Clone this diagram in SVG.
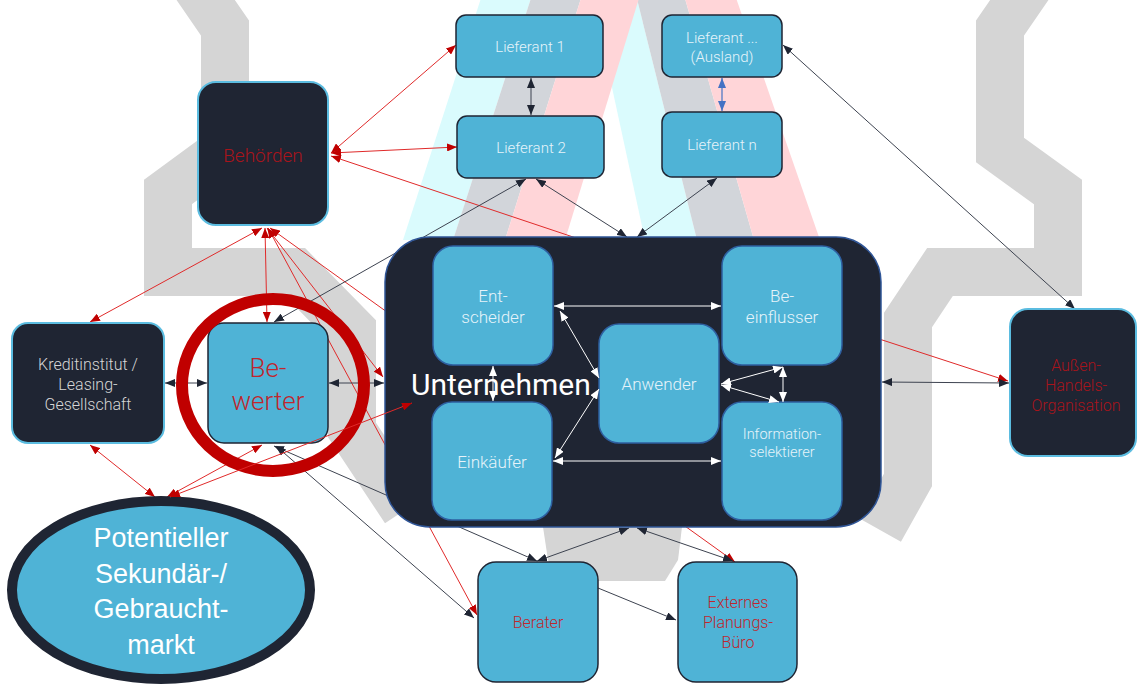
<svg xmlns="http://www.w3.org/2000/svg" width="1137" height="684" viewBox="0 0 1137 684">
<style>
.lbl{font-family:Roboto,"Liberation Sans",sans-serif;font-weight:300;text-anchor:middle}
.lt{fill:#E6F3FA}
.gr{fill:#D6D6D6}
.rd{fill:#A8141B}
.rb{fill:#C0262D}
.dkn{fill:#1F2533;stroke:#5BBCE0;stroke-width:2}
.bln{fill:#4FB3D6;stroke:#1F2533;stroke-width:1.5}
.inn{fill:#4FB3D6;stroke:#2E5FA0;stroke-width:1.5}
.cr{stroke:#E02A2A;stroke-width:1;fill:none}
.cd{stroke:#3D4350;stroke-width:1;fill:none}
.cw{stroke:#FFFFFF;stroke-width:1;fill:none}
.cb{stroke:#4472C4;stroke-width:1.2;fill:none}
.bgg{fill:none;stroke:#D5D5D5;stroke-linejoin:miter}
</style>
<defs>
<marker id="ar" viewBox="0 0 10 8" refX="10" refY="4" markerWidth="10" markerHeight="8" markerUnits="userSpaceOnUse" orient="auto-start-reverse"><path d="M0,0L10,4L0,8z" fill="#C00000"/></marker>
<marker id="ad" viewBox="0 0 10 8" refX="10" refY="4" markerWidth="10" markerHeight="8" markerUnits="userSpaceOnUse" orient="auto-start-reverse"><path d="M0,0L10,4L0,8z" fill="#1F2533"/></marker>
<marker id="aw" viewBox="0 0 10 8" refX="10" refY="4" markerWidth="10" markerHeight="8" markerUnits="userSpaceOnUse" orient="auto-start-reverse"><path d="M0,0L10,4L0,8z" fill="#FFFFFF"/></marker>
<marker id="ab" viewBox="0 0 10 8" refX="10" refY="4" markerWidth="10" markerHeight="8" markerUnits="userSpaceOnUse" orient="auto-start-reverse"><path d="M0,0L10,4L0,8z" fill="#4472C4"/></marker>
</defs>
<rect width="1137" height="684" fill="#FFFFFF"/>
<g id="background">
<polygon points="592,-5 636,-5 697,240 645,240" fill="#DAFBFD"/>
<polygon points="636,-5 684,-5 754,240 697,240" fill="#D2D5DA"/>
<polygon points="684,-5 735,-5 820,240 754,240" fill="#FFD5D8"/>
<polygon points="482,-5 532,-5 453,240 403,240" fill="#DAFBFD"/>
<polygon points="532,-5 582,-5 505,240 453,240" fill="#D2D5DA"/>
<polygon points="582,-5 640,-5 565,240 505,240" fill="#FFD5D8"/>
<polyline class="bgg" stroke-width="48" points="185,-30 225,28 225,150 168,192 168,272 295,272 352,330 352,430 405,510"/>
<polyline class="bgg" stroke-width="48" points="1040,-30 1000,28 1000,150 1058,192 1058,272 940,272 908,320 908,480 880,530"/>
<polygon points="543,527 682,527 678,560 665,581 560,581 548,560" fill="#D5D5D5"/>
</g>
<g id="connectors">
<line class="cr" x1="331" y1="153" x2="456" y2="45" marker-start="url(#ar)" marker-end="url(#ar)"/>
<line class="cr" x1="331" y1="153" x2="457" y2="147" marker-start="url(#ar)" marker-end="url(#ar)"/>
<line class="cr" x1="331" y1="156" x2="600" y2="246" marker-start="url(#ar)"/>
<line class="cr" x1="262" y1="228" x2="90" y2="322" marker-start="url(#ar)" marker-end="url(#ar)"/>
<line class="cr" x1="265" y1="228" x2="267" y2="322" marker-start="url(#ar)" marker-end="url(#ar)"/>
<line class="cr" x1="267" y1="228" x2="383" y2="377" marker-start="url(#ar)" marker-end="url(#ar)"/>
<line class="cr" x1="268" y1="228" x2="477" y2="615" marker-start="url(#ar)" marker-end="url(#ar)"/>
<line class="cr" x1="270" y1="228" x2="735" y2="562" marker-start="url(#ar)" marker-end="url(#ar)"/>
<line class="cr" x1="90" y1="445" x2="155" y2="497" marker-start="url(#ar)" marker-end="url(#ar)"/>
<line class="cr" x1="262" y1="445" x2="167" y2="497" marker-start="url(#ar)" marker-end="url(#ar)"/>
<line class="cr" x1="870" y1="336" x2="1008" y2="381" marker-end="url(#ar)"/>
<line class="cd" x1="531" y1="78" x2="531" y2="115" marker-start="url(#ad)" marker-end="url(#ad)"/>
<line class="cb" x1="722" y1="78" x2="722" y2="111" marker-start="url(#ab)" marker-end="url(#ab)"/>
<line class="cd" x1="526" y1="179" x2="274" y2="322" marker-start="url(#ad)" marker-end="url(#ad)"/>
<line class="cd" x1="536" y1="179" x2="627" y2="237" marker-start="url(#ad)" marker-end="url(#ad)"/>
<line class="cd" x1="717" y1="178" x2="637" y2="237" marker-start="url(#ad)" marker-end="url(#ad)"/>
<line class="cd" x1="783" y1="45" x2="1075" y2="309" marker-start="url(#ad)" marker-end="url(#ad)"/>
<line class="cd" x1="882" y1="382" x2="1009" y2="383" marker-start="url(#ad)" marker-end="url(#ad)"/>
<line class="cd" x1="165" y1="383" x2="207" y2="383" marker-start="url(#ad)" marker-end="url(#ad)"/>
<line class="cd" x1="329" y1="383" x2="384" y2="383" marker-start="url(#ad)" marker-end="url(#ad)"/>
<line class="cd" x1="274" y1="446" x2="537" y2="561" marker-start="url(#ad)" marker-end="url(#ad)"/>
<line class="cd" x1="276" y1="446" x2="474" y2="618" marker-start="url(#ad)" marker-end="url(#ad)"/>
<line class="cd" x1="629" y1="528" x2="537" y2="561" marker-start="url(#ad)" marker-end="url(#ad)"/>
<line class="cd" x1="637" y1="528" x2="733" y2="561" marker-start="url(#ad)" marker-end="url(#ad)"/>
<line class="cd" x1="598" y1="588" x2="676" y2="620" marker-end="url(#ad)"/>
</g>
<g id="node-lieferant1"><rect class="bln" x="456" y="15" width="147" height="62" rx="10"/><text class="lbl lt" x="530" y="52" font-size="15">Lieferant 1</text></g>
<g id="node-lieferant2"><rect class="bln" x="457" y="116" width="147" height="62" rx="10"/><text class="lbl lt" x="531" y="153" font-size="15">Lieferant 2</text></g>
<g id="node-lieferant-ausland"><rect class="bln" x="662" y="15" width="120" height="62" rx="10"/><text class="lbl lt" x="722" y="43" font-size="15">Lieferant ...</text><text class="lbl lt" x="722" y="62" font-size="15">(Ausland)</text></g>
<g id="node-lieferantn"><rect class="bln" x="662" y="112" width="120" height="65" rx="10"/><text class="lbl lt" x="722" y="150" font-size="15">Lieferant n</text></g>
<g id="node-behoerden"><rect class="dkn" x="198" y="82" width="130" height="143" rx="18"/><text class="lbl rd" x="263" y="162" font-size="19">Behörden</text></g>
<g id="node-kreditinstitut"><rect class="dkn" x="12" y="323" width="152" height="120" rx="16"/><text class="lbl gr" x="88" y="370" font-size="16">Kreditinstitut /</text><text class="lbl gr" x="88" y="390" font-size="16">Leasing-</text><text class="lbl gr" x="88" y="410" font-size="16">Gesellschaft</text></g>
<g id="node-bewerter"><rect class="bln" x="208" y="323" width="120" height="120" rx="16"/><text class="lbl rb" x="268" y="377" font-size="26">Be-</text><text class="lbl rb" x="268" y="410" font-size="26">werter</text><ellipse cx="273" cy="385" rx="91" ry="86" fill="none" stroke="#C00000" stroke-width="12"/></g>
<g id="node-aussenhandel"><rect class="dkn" x="1010" y="309" width="126" height="147" rx="18"/><text class="lbl rd" x="1076" y="371" font-size="16">Außen-</text><text class="lbl rd" x="1076" y="391" font-size="16">Handels-</text><text class="lbl rd" x="1076" y="411" font-size="16">Organisation</text></g>
<g id="node-markt"><ellipse cx="161" cy="590" rx="149" ry="89" fill="#4FB3D6" stroke="#1F2533" stroke-width="10"/><g font-family="'Liberation Sans',Arial,sans-serif" font-size="27" fill="#FFFFFF" text-anchor="middle"><text x="161" y="547">Potentieller</text><text x="161" y="583">Sekundär-/</text><text x="161" y="618">Gebraucht-</text><text x="161" y="654">markt</text></g></g>
<g id="node-berater"><rect class="bln" x="478" y="562" width="120" height="120" rx="18"/><text class="lbl rb" x="538" y="628" font-size="16">Berater</text></g>
<g id="node-externes"><rect class="bln" x="678" y="562" width="119" height="120" rx="18"/><text class="lbl rb" x="738" y="608" font-size="16">Externes</text><text class="lbl rb" x="738" y="628" font-size="16">Planungs-</text><text class="lbl rb" x="738" y="648" font-size="16">Büro</text></g>
<g id="node-unternehmen"><rect x="385" y="237" width="496" height="290" rx="45" fill="#1F2533" stroke="#2F5597" stroke-width="1.5"/></g>
<g id="node-entscheider"><rect class="inn" x="433" y="246" width="120" height="119" rx="20"/><text class="lbl lt" x="493" y="302" font-size="17">Ent-</text><text class="lbl lt" x="493" y="323" font-size="17">scheider</text></g>
<g id="node-einkaeufer"><rect class="inn" x="432" y="402" width="120" height="118" rx="20"/><text class="lbl lt" x="492" y="468" font-size="17">Einkäufer</text></g>
<g id="node-anwender"><rect class="inn" x="599" y="324" width="120" height="119" rx="20"/><text class="lbl lt" x="659" y="390" font-size="17">Anwender</text></g>
<g id="node-beeinflusser"><rect class="inn" x="722" y="246" width="120" height="119" rx="20"/><text class="lbl lt" x="782" y="302" font-size="17">Be-</text><text class="lbl lt" x="782" y="323" font-size="17">einflusser</text></g>
<g id="node-informationselektierer"><rect class="inn" x="722" y="402" width="120" height="118" rx="20"/><text class="lbl lt" x="782" y="439" font-size="14.5">Information-</text><text class="lbl lt" x="782" y="457" font-size="14.5">selektierer</text></g>
<text id="label-unternehmen" x="411" y="395" font-family="Roboto,'Liberation Sans',sans-serif" font-size="30" fill="#FFFFFF">Unternehmen</text>
<g id="connectors-inner">
<line class="cr" x1="170" y1="497" x2="412" y2="403" marker-start="url(#ar)" marker-end="url(#ar)"/>
<line class="cw" x1="554" y1="306" x2="721" y2="306" marker-start="url(#aw)" marker-end="url(#aw)"/>
<line class="cw" x1="553" y1="461" x2="721" y2="461" marker-start="url(#aw)" marker-end="url(#aw)"/>
<line class="cw" x1="493" y1="366" x2="493" y2="401" marker-start="url(#aw)" marker-end="url(#aw)"/>
<line class="cw" x1="560" y1="311" x2="599" y2="378" marker-start="url(#aw)" marker-end="url(#aw)"/>
<line class="cw" x1="555" y1="458" x2="599" y2="389" marker-start="url(#aw)" marker-end="url(#aw)"/>
<line class="cw" x1="721" y1="384" x2="783" y2="367" marker-start="url(#aw)" marker-end="url(#aw)"/>
<line class="cw" x1="721" y1="385" x2="779" y2="402" marker-start="url(#aw)" marker-end="url(#aw)"/>
<line class="cw" x1="783" y1="367" x2="783" y2="402" marker-start="url(#aw)" marker-end="url(#aw)"/>
</g>
</svg>
